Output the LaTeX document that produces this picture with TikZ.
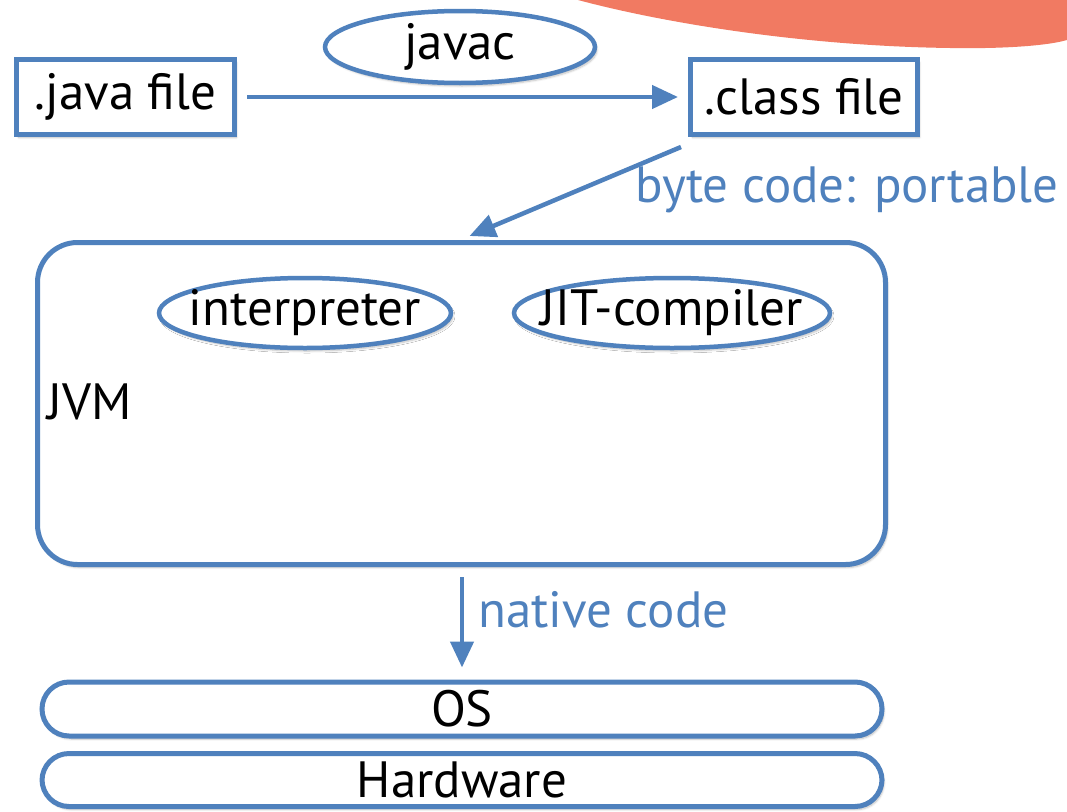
\documentclass[tikz,border=0pt]{standalone}
\usepackage{fontspec}
\setmainfont{PT Sans}
\usetikzlibrary{arrows.meta,shapes.geometric,shadows.blur}
\definecolor{lineblue}{RGB}{79,129,189}
\definecolor{swoosh}{RGB}{241,122,98}
\begin{document}
\begin{tikzpicture}[x=1pt,y=-1pt,
  every node/.style={font=\fontsize{51}{58}\selectfont, inner sep=0pt},
  softshadow/.style={blur shadow={shadow xshift=2pt, shadow yshift=-3pt, shadow blur steps=6, shadow opacity=25}},
  filebox/.style={draw=lineblue, line width=5pt, fill=white, softshadow},
  tool/.style={ellipse, draw=lineblue, line width=4.5pt, fill=white, softshadow,
    inner xsep=-22pt, inner ysep=-4pt},
  layer/.style={draw=lineblue, line width=5pt, fill=white, softshadow},
  flow/.style={draw=lineblue, line width=4.5pt, -{Triangle[length=26pt,width=23pt]}},
  note/.style={text=lineblue}
]
\useasboundingbox (0,0) rectangle (1067,811);

% decorative swoosh in the corner
\fill[swoosh] (578,0) .. controls (660,22) and (800,46) .. (950,48)
  .. controls (1010,49) and (1050,45) .. (1067,40) -- (1067,0) -- cycle;

% source and compiled files
\node[filebox, minimum width=218pt, minimum height=75pt] (java) at (125.5,97) {.java file};
\node[filebox, minimum width=227pt, minimum height=75pt] (class) at (804,97) {.class file};
\node[tool, minimum width=270pt, minimum height=72pt] (javac) at (460,47) {javac};
\draw[flow] ([xshift=10pt]java.east) -- ([xshift=-10pt]class.west);

% virtual machine
\node[layer, rounded corners=40pt, minimum width=848pt, minimum height=322pt] (jvm) at (461.5,403.5) {};
\node[anchor=west] (jvmlabel) at (47,402) {JVM};
\node[tool, minimum width=292pt, minimum height=70pt] (interp) at (305,313) {interpreter};
\node[tool, minimum width=316pt, minimum height=70pt] (jit) at (672,313) {JIT-compiler};

\draw[flow] ([xshift=-7pt,yshift=-10pt]class.south west) -- ([xshift=8pt,yshift=4pt]jvm.north);
\node[note] (bytecode) at (847,190) {byte code: portable};

% platform layers
\node[layer, rounded corners=27pt, minimum width=840pt, minimum height=54pt] (os) at (462,709) {OS};
\node[layer, rounded corners=27pt, minimum width=840pt, minimum height=53pt] (hw) at (462,780) {Hardware};

\draw[flow] ([xshift=0.5pt,yshift=-10pt]jvm.south) -- ([yshift=12pt]os.north);
\node[note, anchor=west] (native) at (478,610) {native code};
\end{tikzpicture}
\end{document}
